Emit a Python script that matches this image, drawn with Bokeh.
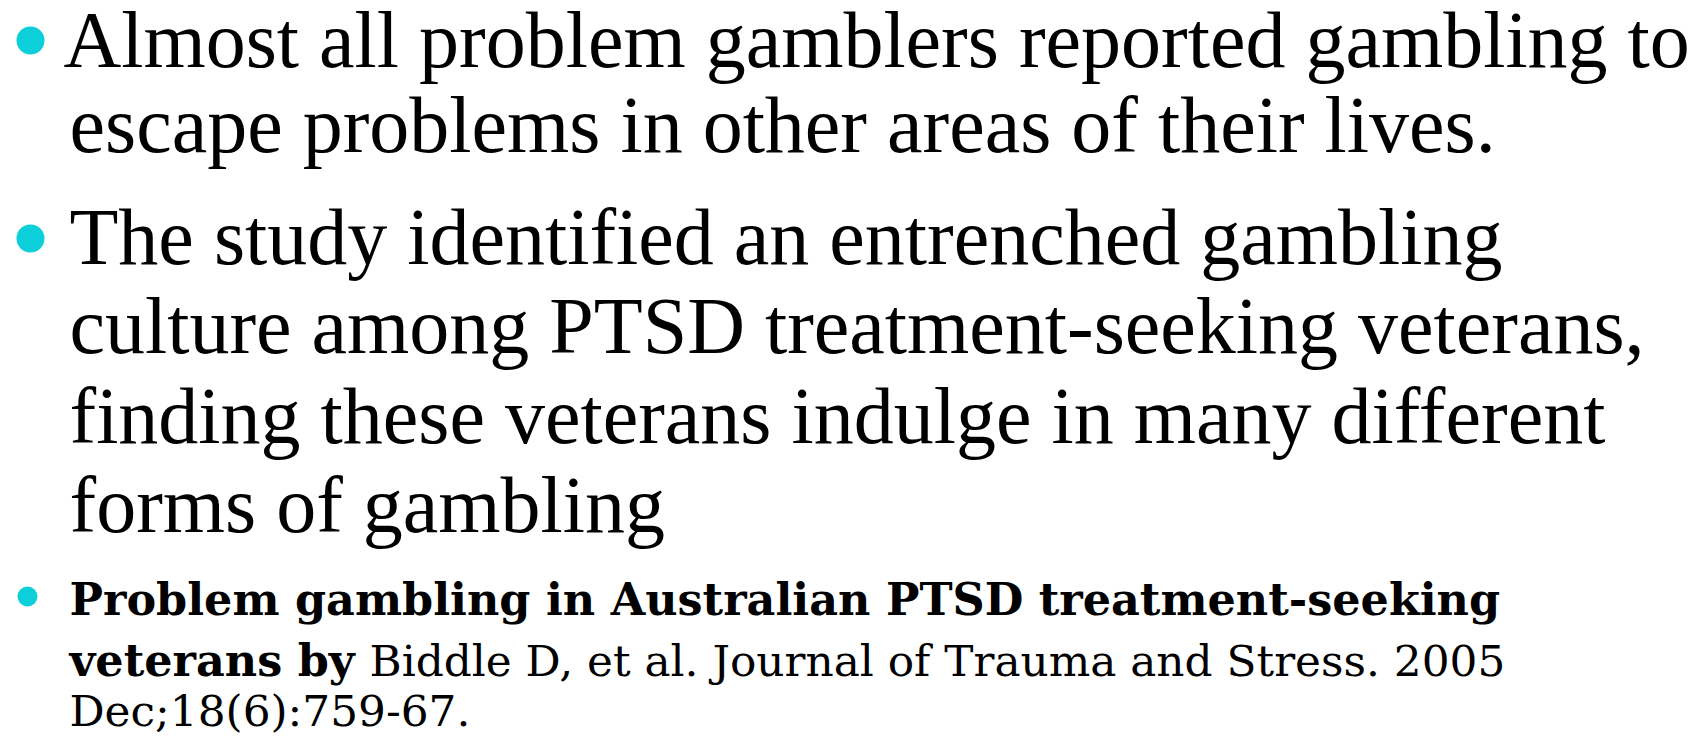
from bokeh.plotting import figure
from bokeh.models import Range1d
from bokeh.core.properties import value
from bokeh.embed import file_html
from bokeh.resources import INLINE

W, H = 1691, 737

# Slide content
big_lines = [
    "Almost all problem gamblers reported gambling to",
    "escape problems in other areas of their lives.",
    "The study identified an entrenched gambling",
    "culture among PTSD treatment-seeking veterans,",
    "finding these veterans indulge in many different",
    "forms of gambling",
]
big_x = [63, 69, 69, 69, 69, 69]
big_y = [68, 153, 265, 354, 444, 533]

bold_lines = [
    "Problem gambling in Australian PTSD treatment-seeking",
    "veterans by",
]
bold_x = [69, 69]
bold_y = [615, 676]

ref_lines = [
    "Biddle D, et al. Journal of Trauma and Stress. 2005",
    "Dec;18(6):759-67.",
]
ref_x = [369, 69]
ref_y = [676, 726]

bullet_x = [30, 30, 27]
bullet_y = [40, 238, 596]
bullet_size = [28, 28, 20]

BIG, BOLD, NORM = 80, 44.5, 43.8
SHIFT = 0.36  # baseline correction (fraction of font size)

p = figure(width=W, height=H, output_backend="svg", toolbar_location=None,
           x_range=Range1d(0, W), y_range=Range1d(H, 0),
           min_border=0, background_fill_color="white", border_fill_color="white")
p.axis.visible = False
p.grid.visible = False
p.outline_line_color = None

p.scatter(x=bullet_x, y=bullet_y, size=bullet_size, marker="circle",
          fill_color="#0CCFD9", line_color=None)

p.text(x=big_x, y=[v - SHIFT * BIG for v in big_y], text=big_lines,
       text_font=value("Liberation Serif"), text_font_size=f"{BIG}px",
       text_color="black", text_baseline="alphabetic", text_align="left")

p.text(x=bold_x, y=[v - SHIFT * BOLD for v in bold_y], text=bold_lines,
       text_font=value("DejaVu Serif"), text_font_size=f"{BOLD}px",
       text_font_style="bold", text_color="black",
       text_baseline="alphabetic", text_align="left")

p.text(x=ref_x, y=[v - SHIFT * NORM for v in ref_y], text=ref_lines,
       text_font=value("DejaVu Serif"), text_font_size=f"{NORM}px",
       text_color="black", text_baseline="alphabetic", text_align="left")

open("out.html", "w").write(file_html(p, INLINE))
